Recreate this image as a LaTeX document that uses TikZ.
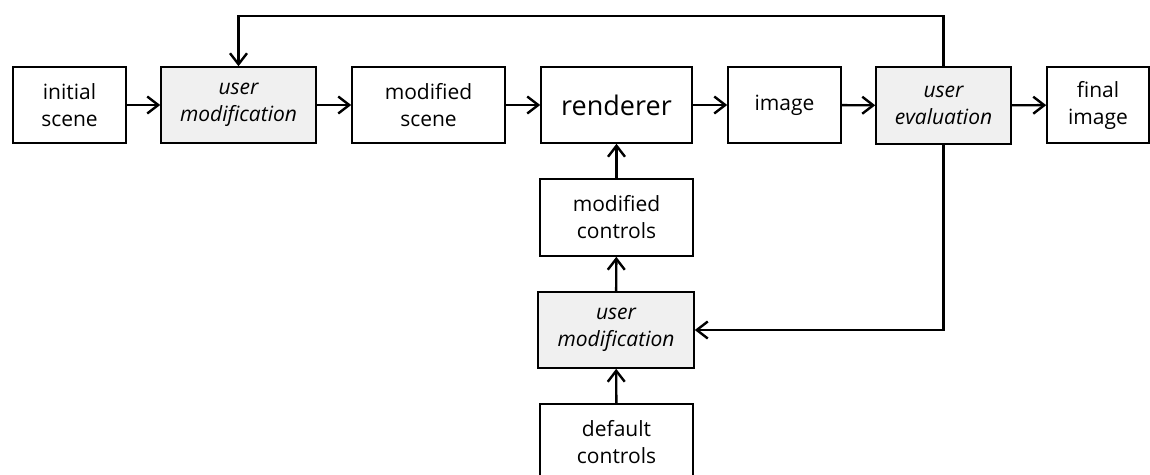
\documentclass[tikz,border=0pt]{standalone}
\usepackage{fontspec}
\setmainfont{Open Sans}
\usetikzlibrary{arrows.meta}
\begin{document}
\begin{tikzpicture}[x=1pt,y=-1pt,
  box/.style={draw=black, line width=1.6pt, fill=white, inner sep=0pt,
    align=center, font=\fontsize{21}{27}\selectfont},
  userbox/.style={box, fill=gray!12, font=\fontsize{21}{27}\selectfont\itshape},
  flow/.style={line width=2.4pt, -{Straight Barb[length=11pt,width=17pt,line width=2.4pt]}}
]
\useasboundingbox (0,0) rectangle (1150,474);
% main row
\node[box, minimum width=113pt, minimum height=76pt] (init) at (69.5,105) {initial\\scene};
\node[userbox, minimum width=155pt, minimum height=76pt] (um1) at (238.5,105) {user\\modification};
\node[box, minimum width=153pt, minimum height=76pt] (ms) at (428.5,105) {modified\\scene};
\node[box, minimum width=151pt, minimum height=76pt, font=\fontsize{27}{30}\selectfont] (rend) at (616.5,105) {renderer};
\node[box, minimum width=113pt, minimum height=76pt] (img) at (784.5,105) {image};
\node[userbox, minimum width=135pt, minimum height=77pt] (ue) at (943.5,105.5) {user\\evaluation};
\node[box, minimum width=102pt, minimum height=76pt] (fin) at (1098,105) {final\\image};
% control column
\node[box, minimum width=153pt, minimum height=77pt] (mc) at (616.5,217.5) {modified\\controls};
\node[userbox, minimum width=156pt, minimum height=76pt] (um2) at (616,330) {user\\modification};
\node[box, minimum width=153pt, minimum height=76pt] (dc) at (616.5,442) {default\\controls};
% connectors
\draw[flow] (init) -- (um1);
\draw[flow] (um1) -- (ms);
\draw[flow] (ms) -- (rend);
\draw[flow] (rend) -- (img);
\draw[flow] (img) -- (ue);
\draw[flow] (ue) -- (fin);
\draw[flow] (dc) -- (um2);
\draw[flow] (um2) -- (mc);
\draw[flow] (mc) -- (rend);
\coordinate (top) at (943.5,16);
\draw[flow] (ue.north) |- (top) -| (um1.north);
\draw[flow] (ue.south) |- (um2.east);
\end{tikzpicture}
\end{document}
